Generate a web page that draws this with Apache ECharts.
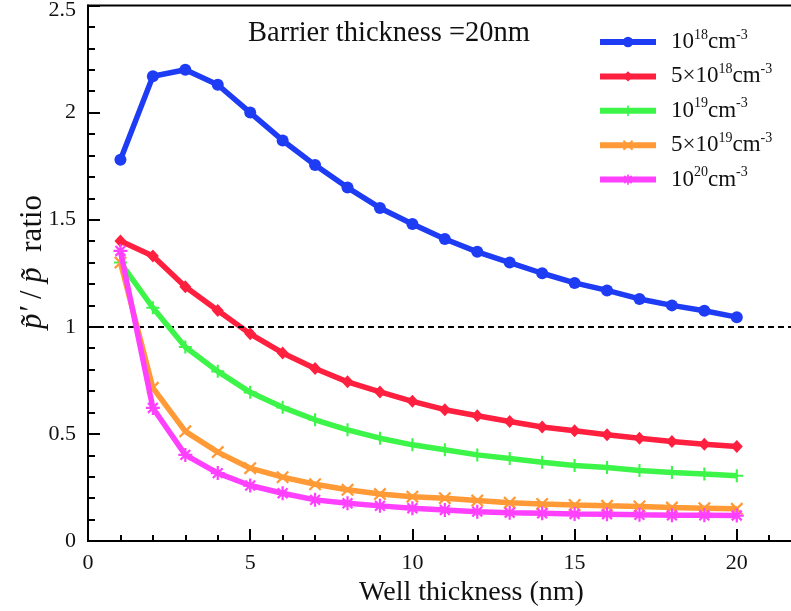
<!DOCTYPE html>
<html>
<head>
<meta charset="utf-8">
<script src="https://cdn.jsdelivr.net/npm/echarts@6/dist/echarts.min.js"></script>
<style>
  html, body { margin: 0; padding: 0; background: #fff; }
  #chart { width: 791px; height: 611px; }
</style>
</head>
<body>
<div id="chart"></div>
<script>
// Well thickness (nm)
const wellThickness = [1, 2, 3, 4, 5, 6, 7, 8, 9, 10, 11, 12, 13, 14, 15, 16, 17, 18, 19, 20];

// p'/p ratio for each doping level
const ratio1e18 = [1.78, 2.17, 2.20, 2.13, 2.00, 1.87, 1.755, 1.65, 1.555, 1.48, 1.41, 1.35, 1.30, 1.25, 1.205, 1.17, 1.13, 1.10, 1.075, 1.045];
const ratio5e18 = [1.40, 1.33, 1.187, 1.076, 0.967, 0.878, 0.805, 0.743, 0.696, 0.652, 0.613, 0.585, 0.558, 0.532, 0.515, 0.496, 0.48, 0.465, 0.452, 0.441];
const ratio1e19 = [1.30, 1.089, 0.906, 0.792, 0.694, 0.624, 0.566, 0.519, 0.48, 0.449, 0.426, 0.402, 0.385, 0.368, 0.352, 0.343, 0.329, 0.32, 0.313, 0.305];
const ratio5e19 = [1.30, 0.715, 0.512, 0.415, 0.34, 0.298, 0.265, 0.239, 0.219, 0.207, 0.20, 0.189, 0.179, 0.173, 0.168, 0.164, 0.161, 0.156, 0.153, 0.15];
const ratio1e20 = [1.354, 0.621, 0.402, 0.317, 0.259, 0.223, 0.192, 0.176, 0.164, 0.153, 0.145, 0.137, 0.132, 0.129, 0.126, 0.125, 0.122, 0.12, 0.12, 0.119];

// Legend labels: mantissa and exponent of the doping concentration
const dopingBase = ['10', '5×10', '10', '5×10', '10'];
const dopingExp = ['18', '18', '19', '19', '20'];

const titleText = 'Barrier thickness =20nm';
const xAxisTitle = 'Well thickness (nm)';
const referenceRatio = 1;
const yMax = 2.5;

const FONT = '"Liberation Serif", "Times New Roman", serif';
const INK = '#111';

// Build a filled rectangle along a segment (for stroke-like marker glyphs)
function bar(x1, y1, x2, y2, w) {
  const dx = x2 - x1, dy = y2 - y1;
  const len = Math.sqrt(dx * dx + dy * dy);
  const nx = -dy / len * w / 2, ny = dx / len * w / 2;
  const p = [[x1 + nx, y1 + ny], [x2 + nx, y2 + ny], [x2 - nx, y2 - ny], [x1 - nx, y1 - ny]];
  return 'M' + p.map(q => q[0].toFixed(2) + ',' + q[1].toFixed(2)).join('L') + 'Z';
}
const T = 3.2;
const plusPath = 'path://' + bar(10, 0, 10, 20, T) + bar(0, 10, 20, 10, T);
const crossPath = 'path://' + bar(2, 2, 18, 18, T) + bar(18, 2, 2, 18, T);
const starPath = 'path://' + bar(10, 0, 10, 20, T) + bar(0, 10, 20, 10, T) +
  bar(3, 3, 17, 17, T) + bar(17, 3, 3, 17, T);

const colors = ['#1e3cf4', '#ff1f3f', '#3cf548', '#ff9a36', '#ff40ff'];
const symbols = ['circle', 'diamond', plusPath, crossPath, starPath];
const symbolSizes = [12, [12, 13], 13, 13, 14];
const seriesData = [ratio1e18, ratio5e18, ratio1e19, ratio5e19, ratio1e20];

const names = dopingBase.map((b, i) => b + '^' + dopingExp[i] + 'cm^-3');

const series = seriesData.map((vals, i) => ({
  name: names[i],
  type: 'line',
  data: wellThickness.map((x, k) => [x, vals[k]]),
  symbol: symbols[i],
  symbolSize: symbolSizes[i],
  showAllSymbol: true,
  lineStyle: { color: colors[i], width: 5.5 },
  itemStyle: { color: colors[i] },
  z: 3 + i,
  animation: false
}));

// Dashed reference line at ratio = 1
series.unshift({
  name: 'ref',
  type: 'line',
  data: [],
  z: 2,
  markLine: {
    silent: true,
    symbol: ['none', 'none'],
    label: { show: false },
    lineStyle: { color: '#000', type: [6, 4], width: 2 },
    data: [{ yAxis: referenceRatio }]
  },
  animation: false
});

const chart = echarts.init(document.getElementById('chart'), null, { renderer: 'canvas' });

chart.setOption({
  backgroundColor: '#fff',
  animation: false,
  title: {
    text: titleText,
    left: 243,
    top: 14,
    textStyle: { fontFamily: FONT, fontSize: 28.5, fontWeight: 'normal', color: INK }
  },
  legend: {
    data: names,
    orient: 'vertical',
    left: 592,
    top: 23,
    itemWidth: 56,
    itemHeight: 13,
    itemGap: 8.9,
    lineStyle: { width: 6 },
    formatter: function (name) {
      const m = name.match(/^(.*)\^(\d+)cm\^-3$/);
      return '{f|' + m[1] + '}{s|' + m[2] + '}{b|cm}{s|-3}';
    },
    textStyle: {
      fontFamily: FONT,
      color: INK,
      rich: {
        f: { fontFamily: FONT, fontSize: 23, color: INK, lineHeight: 28, padding: [0, 0, 0, 10] },
        b: { fontFamily: FONT, fontSize: 23, color: INK, lineHeight: 28 },
        s: { fontFamily: FONT, fontSize: 14, color: INK, verticalAlign: 'top', lineHeight: 14 }
      }
    }
  },
  grid: {
    left: 88,
    top: 5.5,
    height: 535.5,
    width: 811,
    outerBoundsMode: 'none',
    containLabel: false,
    show: true,
    borderColor: '#000',
    borderWidth: 2,
    backgroundColor: 'transparent'
  },
  xAxis: {
    type: 'value',
    min: 0,
    max: 25,
    interval: 5,
    name: xAxisTitle,
    nameLocation: 'middle',
    nameGap: 24,
    nameTextStyle: { fontFamily: FONT, fontSize: 28, color: INK, padding: [0, 44, 0, 0] },
    axisLine: { show: true, onZero: false, lineStyle: { color: '#000', width: 2 } },
    axisTick: { show: true, inside: true, length: 12, lineStyle: { color: '#000', width: 2 } },
    minorTick: { show: true, splitNumber: 5, length: 6, lineStyle: { color: '#000', width: 2 } },
    splitLine: { show: false },
    minorSplitLine: { show: false },
    axisLabel: {
      fontFamily: FONT, fontSize: 22, color: INK, margin: 11,
      formatter: v => (v <= 20 ? String(v) : '')
    }
  },
  yAxis: {
    type: 'value',
    min: 0,
    max: yMax,
    interval: 0.5,
    axisLine: { show: true, lineStyle: { color: '#000', width: 2 } },
    axisTick: { show: true, inside: true, length: 12, lineStyle: { color: '#000', width: 2 } },
    minorTick: { show: true, splitNumber: 5, length: 7, lineStyle: { color: '#000', width: 2 } },
    splitLine: { show: false },
    minorSplitLine: { show: false },
    axisLabel: {
      fontFamily: FONT, fontSize: 22, color: INK, margin: 12,
      // keep the top label inside the canvas
      formatter: v => (v === yMax ? '{top|' + v + '}' : String(v)),
      rich: {
        top: { fontFamily: FONT, fontSize: 22, color: INK, padding: [10, 0, 0, 0] }
      }
    }
  },
  graphic: [{
    // vertical axis title: p̃′ / p̃ ratio
    type: 'text',
    x: 33,
    y: 262,
    rotation: Math.PI / 2,
    style: {
      text: '{i|p̃′} / {i|p̃}  ratio',
      fontFamily: FONT,
      fontSize: 31,
      fill: INK,
      align: 'center',
      verticalAlign: 'middle',
      rich: {
        i: { fontFamily: FONT, fontSize: 31, fontStyle: 'italic', fill: INK }
      }
    }
  }],
  series: series
});
</script>
</body>
</html>
